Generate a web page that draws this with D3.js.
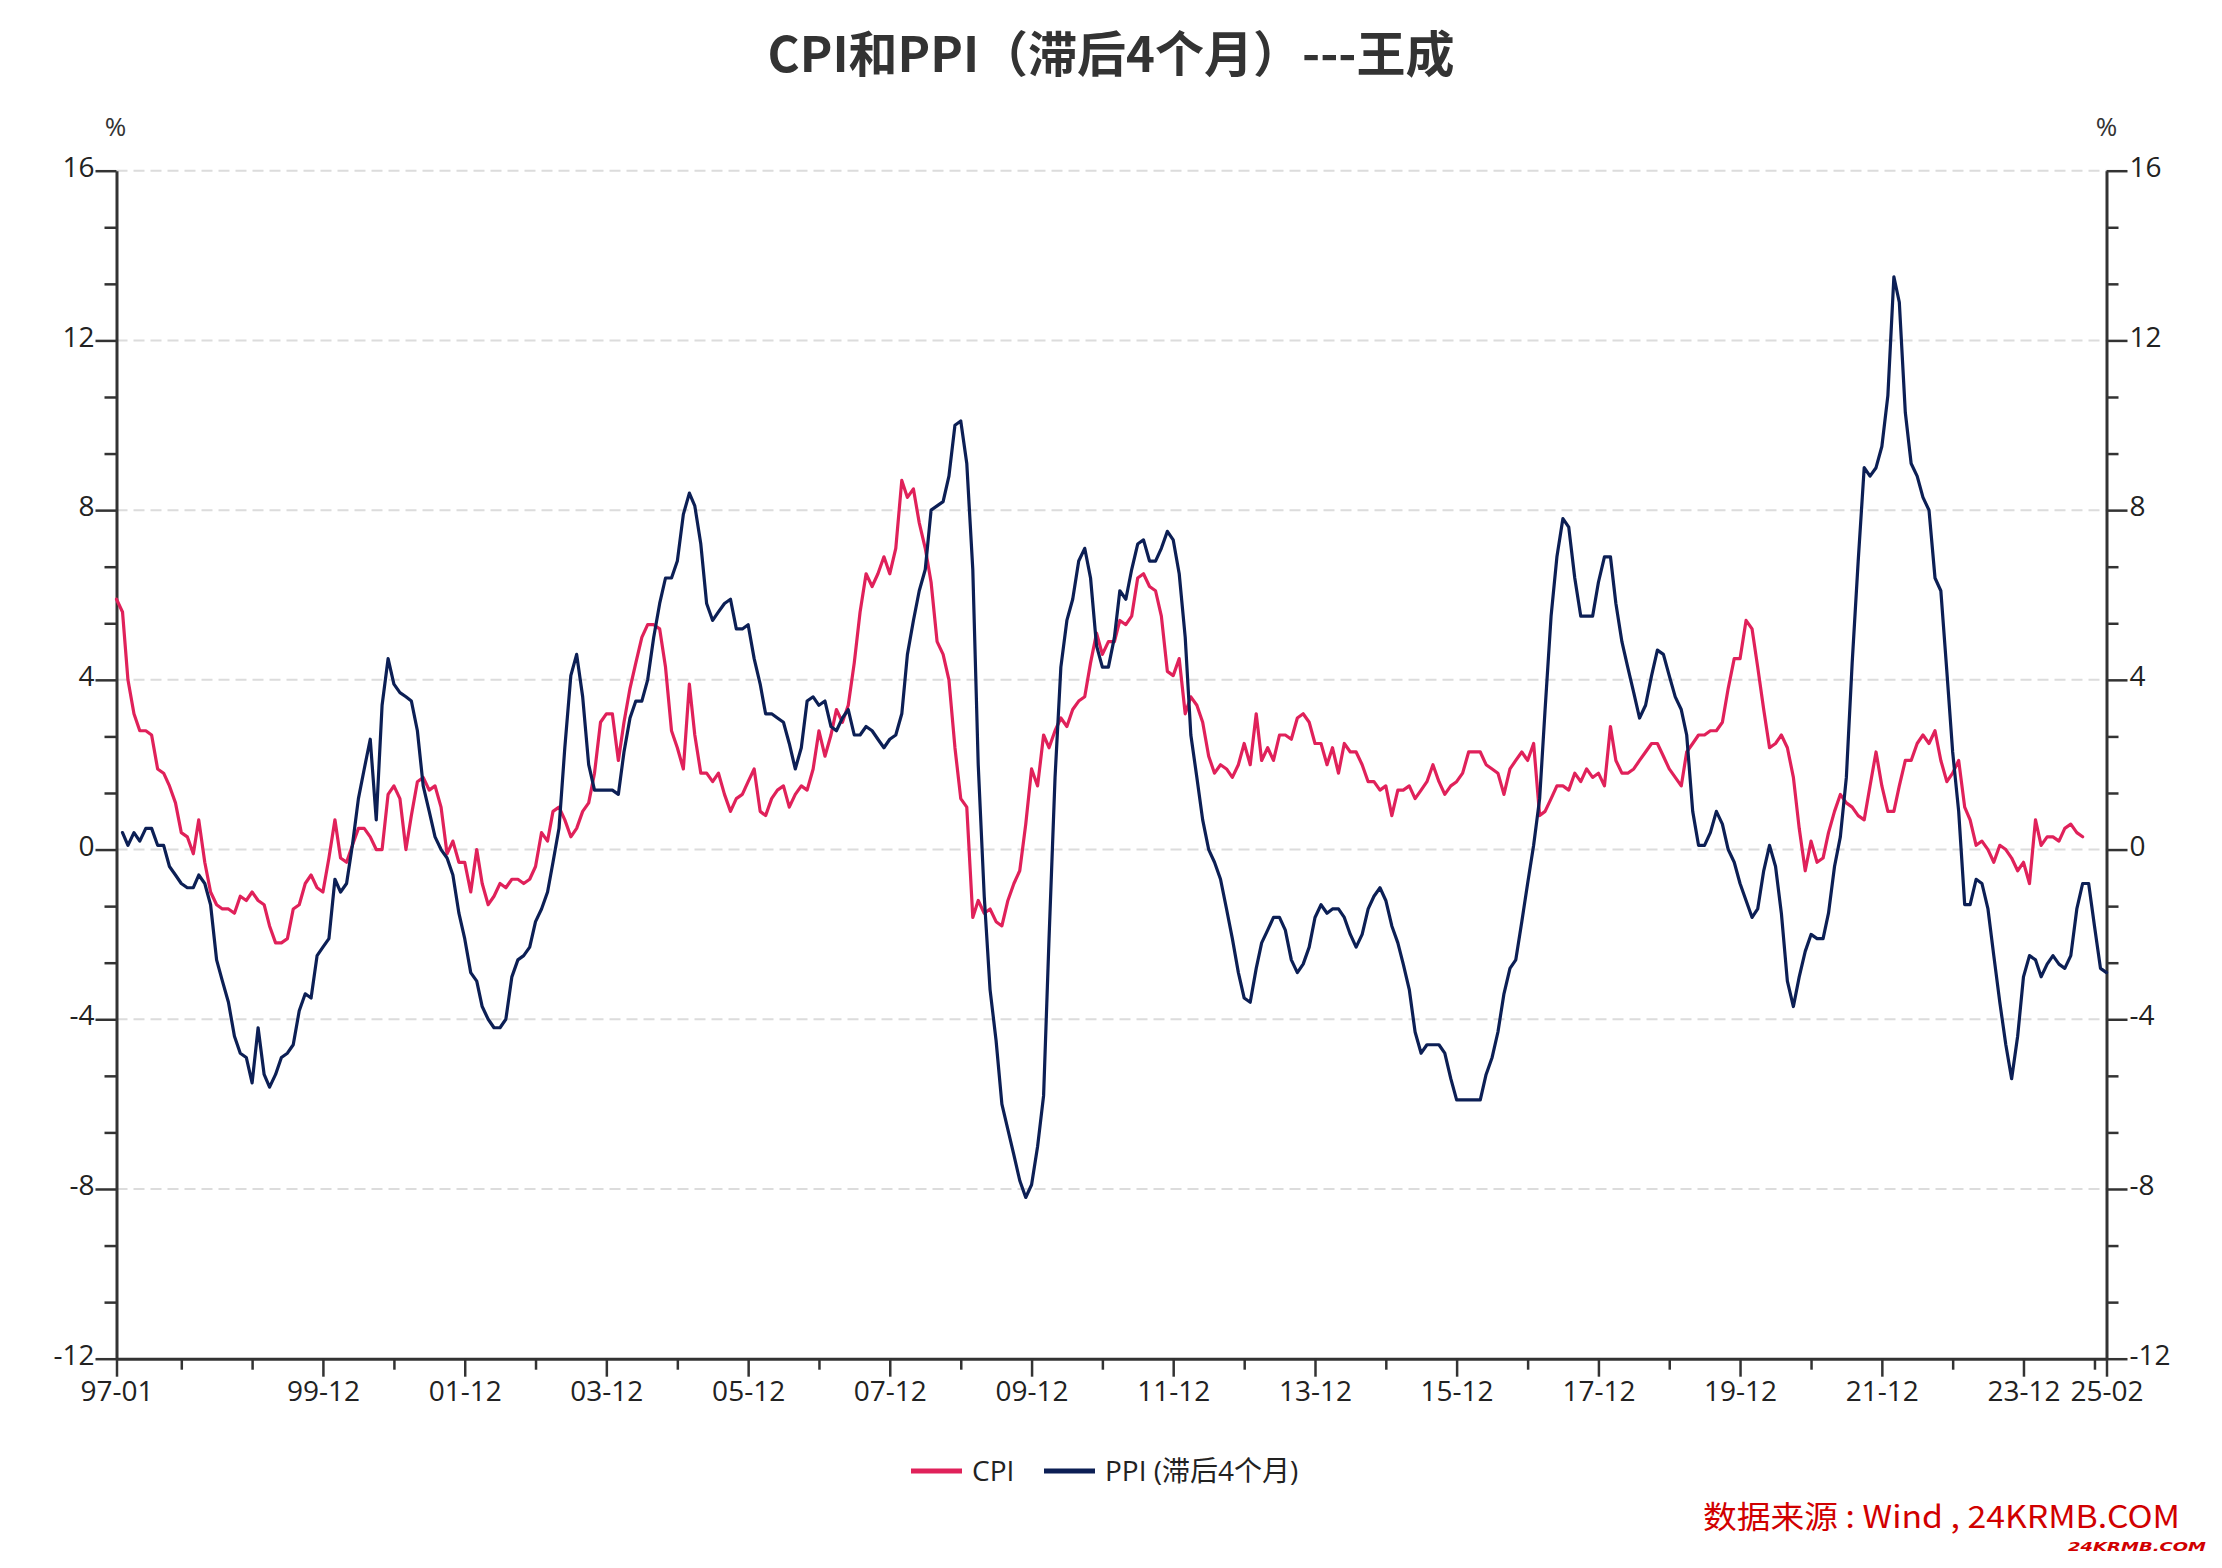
<!DOCTYPE html>
<html>
<head>
<meta charset="utf-8">
<script src="https://cdn.jsdelivr.net/npm/d3@7"></script>
<style>
  html, body { margin: 0; padding: 0; background: #ffffff; }
  svg { display: block; }
</style>
</head>
<body>
<svg id="chart" width="2222" height="1568"></svg>
<script>
// ---------------- DATA ----------------
const startYear = 1997;           // first month: 1997-01
const endMonthIndex = 337;        // last axis month: 2025-02
const xTickLabels = ["97-01","99-12","01-12","03-12","05-12","07-12","09-12","11-12","13-12","15-12","17-12","19-12","21-12","23-12","25-02"];
const yTickValues = [-12, -8, -4, 0, 4, 8, 12, 16];

// CPI YoY (%), monthly from 1997-01
const cpiValues = [
  5.9, 5.6, 4.0, 3.2, 2.8, 2.8, 2.7, 1.9, 1.8, 1.5, 1.1, 0.4,
  0.3, -0.1, 0.7, -0.3, -1.0, -1.3, -1.4, -1.4, -1.5, -1.1, -1.2, -1.0,
  -1.2, -1.3, -1.8, -2.2, -2.2, -2.1, -1.4, -1.3, -0.8, -0.6, -0.9, -1.0,
  -0.2, 0.7, -0.2, -0.3, 0.1, 0.5, 0.5, 0.3, 0.0, 0.0, 1.3, 1.5,
  1.2, 0.0, 0.8, 1.6, 1.7, 1.4, 1.5, 1.0, -0.1, 0.2, -0.3, -0.3,
  -1.0, 0.0, -0.8, -1.3, -1.1, -0.8, -0.9, -0.7, -0.7, -0.8, -0.7, -0.4,
  0.4, 0.2, 0.9, 1.0, 0.7, 0.3, 0.5, 0.9, 1.1, 1.8, 3.0, 3.2,
  3.2, 2.1, 3.0, 3.8, 4.4, 5.0, 5.3, 5.3, 5.2, 4.3, 2.8, 2.4,
  1.9, 3.9, 2.7, 1.8, 1.8, 1.6, 1.8, 1.3, 0.9, 1.2, 1.3, 1.6,
  1.9, 0.9, 0.8, 1.2, 1.4, 1.5, 1.0, 1.3, 1.5, 1.4, 1.9, 2.8,
  2.2, 2.7, 3.3, 3.0, 3.4, 4.4, 5.6, 6.5, 6.2, 6.5, 6.9, 6.5,
  7.1, 8.7, 8.3, 8.5, 7.7, 7.1, 6.3, 4.9, 4.6, 4.0, 2.4, 1.2,
  1.0, -1.6, -1.2, -1.5, -1.4, -1.7, -1.8, -1.2, -0.8, -0.5, 0.6, 1.9,
  1.5, 2.7, 2.4, 2.8, 3.1, 2.9, 3.3, 3.5, 3.6, 4.4, 5.1, 4.6,
  4.9, 4.9, 5.4, 5.3, 5.5, 6.4, 6.5, 6.2, 6.1, 5.5, 4.2, 4.1,
  4.5, 3.2, 3.6, 3.4, 3.0, 2.2, 1.8, 2.0, 1.9, 1.7, 2.0, 2.5,
  2.0, 3.2, 2.1, 2.4, 2.1, 2.7, 2.7, 2.6, 3.1, 3.2, 3.0, 2.5,
  2.5, 2.0, 2.4, 1.8, 2.5, 2.3, 2.3, 2.0, 1.6, 1.6, 1.4, 1.5,
  0.8, 1.4, 1.4, 1.5, 1.2, 1.4, 1.6, 2.0, 1.6, 1.3, 1.5, 1.6,
  1.8, 2.3, 2.3, 2.3, 2.0, 1.9, 1.8, 1.3, 1.9, 2.1, 2.3, 2.1,
  2.5, 0.8, 0.9, 1.2, 1.5, 1.5, 1.4, 1.8, 1.6, 1.9, 1.7, 1.8,
  1.5, 2.9, 2.1, 1.8, 1.8, 1.9, 2.1, 2.3, 2.5, 2.5, 2.2, 1.9,
  1.7, 1.5, 2.3, 2.5, 2.7, 2.7, 2.8, 2.8, 3.0, 3.8, 4.5, 4.5,
  5.4, 5.2, 4.3, 3.3, 2.4, 2.5, 2.7, 2.4, 1.7, 0.5, -0.5, 0.2,
  -0.3, -0.2, 0.4, 0.9, 1.3, 1.1, 1.0, 0.8, 0.7, 1.5, 2.3, 1.5,
  0.9, 0.9, 1.5, 2.1, 2.1, 2.5, 2.7, 2.5, 2.8, 2.1, 1.6, 1.8,
  2.1, 1.0, 0.7, 0.1, 0.2, 0.0, -0.3, 0.1, 0.0, -0.2, -0.5, -0.3,
  -0.8, 0.7, 0.1, 0.3, 0.3, 0.2, 0.5, 0.6, 0.4, 0.3
];

// PPI YoY (%), shifted forward 4 months; first plotted month is 1997-02
const ppiStartIndex = 1;
const ppiValues = [
  0.4, 0.1, 0.4, 0.2, 0.5, 0.5, 0.1, 0.1, -0.4, -0.6, -0.8,
  -0.9, -0.9, -0.6, -0.8, -1.3, -2.6, -3.1, -3.6, -4.4, -4.8, -4.9, -5.5,
  -4.2, -5.3, -5.6, -5.3, -4.9, -4.8, -4.6, -3.8, -3.4, -3.5, -2.5, -2.3,
  -2.1, -0.7, -1.0, -0.8, 0.1, 1.2, 1.9, 2.6, 0.7, 3.4, 4.5, 3.9,
  3.7, 3.6, 3.5, 2.8, 1.5, 0.9, 0.3, 0.0, -0.2, -0.6, -1.5, -2.1,
  -2.9, -3.1, -3.7, -4.0, -4.2, -4.2, -4.0, -3.0, -2.6, -2.5, -2.3, -1.7,
  -1.4, -1.0, -0.3, 0.5, 2.4, 4.1, 4.6, 3.6, 2.0, 1.4, 1.4, 1.4,
  1.4, 1.3, 2.3, 3.1, 3.5, 3.5, 4.0, 5.0, 5.8, 6.4, 6.4, 6.8,
  7.9, 8.4, 8.1, 7.2, 5.8, 5.4, 5.6, 5.8, 5.9, 5.2, 5.2, 5.3,
  4.5, 3.9, 3.2, 3.2, 3.1, 3.0, 2.5, 1.9, 2.4, 3.5, 3.6, 3.4,
  3.5, 2.9, 2.8, 3.1, 3.3, 2.7, 2.7, 2.9, 2.8, 2.6, 2.4, 2.6,
  2.7, 3.2, 4.6, 5.4, 6.1, 6.6, 8.0, 8.1, 8.2, 8.8, 10.0, 10.1,
  9.1, 6.6, 2.0, -1.1,
  -3.3, -4.5, -6.0, -6.6, -7.2, -7.8, -8.2, -7.9, -7.0, -5.8, -2.1, 1.7,
  4.3, 5.4, 5.9, 6.8, 7.1, 6.4, 4.8, 4.3, 4.3, 5.0, 6.1, 5.9,
  6.6, 7.2, 7.3, 6.8, 6.8, 7.1, 7.5, 7.3, 6.5, 5.0, 2.7, 1.7,
  0.7, 0.0, -0.3, -0.7, -1.4, -2.1, -2.9, -3.5, -3.6, -2.8, -2.2, -1.9,
  -1.6, -1.6, -1.9, -2.6, -2.9, -2.7, -2.3, -1.6, -1.3, -1.5, -1.4, -1.4,
  -1.6, -2.0, -2.3, -2.0, -1.4, -1.1, -0.9, -1.2, -1.8, -2.2, -2.7, -3.3,
  -4.3, -4.8, -4.6, -4.6, -4.6, -4.8, -5.4, -5.9, -5.9, -5.9, -5.9, -5.9,
  -5.3, -4.9, -4.3, -3.4, -2.8, -2.6, -1.7, -0.8, 0.1, 1.2, 3.3, 5.5,
  6.9, 7.8, 7.6, 6.4, 5.5, 5.5, 5.5, 6.3, 6.9, 6.9, 5.8, 4.9,
  4.3, 3.7, 3.1, 3.4, 4.1, 4.7, 4.6, 4.1, 3.6, 3.3, 2.7, 0.9,
  0.1, 0.1, 0.4, 0.9, 0.6, 0.0, -0.3, -0.8, -1.2, -1.6, -1.4, -0.5,
  0.1, -0.4, -1.5, -3.1, -3.7, -3.0, -2.4, -2.0, -2.1, -2.1, -1.5, -0.4,
  0.3, 1.7, 4.4, 6.8, 9.0, 8.8, 9.0, 9.5, 10.7, 13.5, 12.9, 10.3,
  9.1, 8.8, 8.3, 8.0, 6.4, 6.1, 4.2, 2.3, 0.9, -1.3, -1.3, -0.7,
  -0.8, -1.4, -2.5, -3.6, -4.6, -5.4, -4.4, -3.0, -2.5, -2.6, -3.0, -2.7,
  -2.5, -2.7, -2.8, -2.5, -1.4, -0.8, -0.8, -1.8, -2.8, -2.9
];

const seriesNames = ["CPI", "PPI (滞后4个月)"];
const seriesColors = ["#e0215a", "#0c1f55"];

// ---------------- CHART ----------------
const W = 2222, H = 1568;
const svg = d3.select("#chart");
svg.append("rect").attr("width", W).attr("height", H).attr("fill", "#ffffff");

const monthDate = i => new Date(startYear, i, 1);
const plot = { left: 116.5, right: 2106.5, top: 170.7, bottom: 1358.7 };

const x = d3.scaleTime()
  .domain([monthDate(0), monthDate(endMonthIndex)])
  .range([plot.left, plot.right]);
const y = d3.scaleLinear()
  .domain([-12, 16])
  .range([plot.bottom, plot.top]);

const labelFont = "'Open Sans', 'Noto Sans CJK SC', sans-serif";
const axisColor = "#333333";

// gridlines
svg.append("g")
  .selectAll("line")
  .data(yTickValues.filter(v => v !== -12))
  .join("line")
  .attr("x1", plot.left).attr("x2", plot.right)
  .attr("y1", d => y(d)).attr("y2", d => y(d))
  .attr("stroke", "#dcdcdc")
  .attr("stroke-width", 2)
  .attr("stroke-dasharray", "11,6");

// minor y ticks (every 4/3)
const minorY = [];
for (let k = -9; k <= 12; k++) {
  const v = k * 4 / 3;
  if (k % 3 !== 0) minorY.push(v);
}

function styleAxis(g) {
  g.selectAll("path.domain").attr("stroke", axisColor).attr("stroke-width", 3);
  g.selectAll(".tick line").attr("stroke", axisColor).attr("stroke-width", 2.5);
  g.selectAll(".tick text")
    .attr("fill", "#222")
    .style("font-family", labelFont)
    .style("font-size", "28px");
}

const fmtY = d => String(d);

// left axis
const leftMinor = svg.append("g").attr("transform", `translate(${plot.left},0)`)
  .call(d3.axisLeft(y).tickValues(minorY).tickSize(12).tickSizeOuter(0).tickFormat(""));
styleAxis(leftMinor);
leftMinor.select("path.domain").remove();
const leftAxis = svg.append("g").attr("transform", `translate(${plot.left},0)`)
  .call(d3.axisLeft(y).tickValues(yTickValues).tickSize(21).tickSizeOuter(0).tickPadding(1).tickFormat(fmtY));
styleAxis(leftAxis);
leftAxis.selectAll(".tick text").attr("dy", "0.2em");

// right axis
const rightMinor = svg.append("g").attr("transform", `translate(${plot.right},0)`)
  .call(d3.axisRight(y).tickValues(minorY).tickSize(12).tickSizeOuter(0).tickFormat(""));
styleAxis(rightMinor);
rightMinor.select("path.domain").remove();
const rightAxis = svg.append("g").attr("transform", `translate(${plot.right},0)`)
  .call(d3.axisRight(y).tickValues(yTickValues).tickSize(21).tickSizeOuter(0).tickPadding(2).tickFormat(fmtY));
styleAxis(rightAxis);
rightAxis.selectAll(".tick text").attr("dy", "0.2em");

// bottom axis
const fmtX = d3.timeFormat("%y-%m");
const majorDates = xTickLabels.map(s => {
  const [yy, mm] = s.split("-").map(Number);
  return new Date((yy > 50 ? 1900 : 2000) + yy, mm - 1, 1);
});
const majorKeys = new Set(xTickLabels);
const minorDates = [];
for (let yr = 1997; yr <= 2024; yr++) {
  const d = new Date(yr, 11, 1);
  if (!majorKeys.has(fmtX(d))) minorDates.push(d);
}
const bottomMinor = svg.append("g").attr("transform", `translate(0,${plot.bottom})`)
  .call(d3.axisBottom(x).tickValues(minorDates).tickSize(11).tickSizeOuter(0).tickFormat(""));
styleAxis(bottomMinor);
bottomMinor.select("path.domain").remove();
const bottomAxis = svg.append("g").attr("transform", `translate(0,${plot.bottom})`)
  .call(d3.axisBottom(x).tickValues(majorDates).tickSize(18).tickSizeOuter(0).tickPadding(4).tickFormat(fmtX));
styleAxis(bottomAxis);

// % labels
[plot.left - 1, plot.right].forEach(px => {
  svg.append("text")
    .attr("x", px).attr("y", 136)
    .attr("text-anchor", "middle")
    .attr("fill", "#333")
    .style("font-family", labelFont)
    .style("font-size", "26px")
    .text("%");
});

// lines
const cpiData = cpiValues.map((v, i) => ({ date: monthDate(i), v }));
const ppiData = ppiValues.map((v, i) => ({ date: monthDate(i + ppiStartIndex), v }));

const line = d3.line()
  .defined(d => d.v != null)
  .x(d => x(d.date))
  .y(d => y(d.v));

[cpiData, ppiData].forEach((data, k) => {
  svg.append("path")
    .datum(data)
    .attr("fill", "none")
    .attr("stroke", seriesColors[k])
    .attr("stroke-width", 3.2)
    .attr("stroke-linejoin", "round")
    .attr("stroke-linecap", "round")
    .attr("d", line);
});

// title
svg.append("text")
  .attr("x", 1111).attr("y", 72)
  .attr("text-anchor", "middle")
  .attr("fill", "#333333")
  .style("font-family", "'Noto Sans CJK SC', sans-serif")
  .style("font-weight", "700")
  .style("font-size", "49px")
  .text("CPI和PPI（滞后4个月）---王成");

// legend
const legendItems = [
  { name: seriesNames[0], color: seriesColors[0], x0: 911 },
  { name: seriesNames[1], color: seriesColors[1], x0: 1044 }
];
const lg = svg.append("g");
legendItems.forEach(it => {
  lg.append("line")
    .attr("x1", it.x0).attr("x2", it.x0 + 51)
    .attr("y1", 1471).attr("y2", 1471)
    .attr("stroke", it.color).attr("stroke-width", 5);
  lg.append("text")
    .attr("x", it.x0 + 61).attr("y", 1481)
    .attr("fill", "#222")
    .style("font-family", labelFont)
    .style("font-size", "28px")
    .text(it.name);
});

// source watermark
svg.append("text")
  .attr("x", 1703).attr("y", 1528)
  .attr("textLength", 477)
  .attr("lengthAdjust", "spacingAndGlyphs")
  .attr("fill", "#d10000")
  .style("font-family", "'Noto Sans CJK SC', sans-serif")
  .style("font-size", "31px")
  .text("数据来源 : Wind , 24KRMB.COM");
svg.append("text")
  .attr("x", 2068).attr("y", 1551)
  .attr("textLength", 138)
  .attr("lengthAdjust", "spacingAndGlyphs")
  .attr("fill", "#d10000")
  .style("font-family", "'DejaVu Sans', sans-serif")
  .style("font-weight", "700")
  .style("font-style", "italic")
  .style("font-size", "13px")
  .text("24KRMB.COM");
</script>
</body>
</html>
